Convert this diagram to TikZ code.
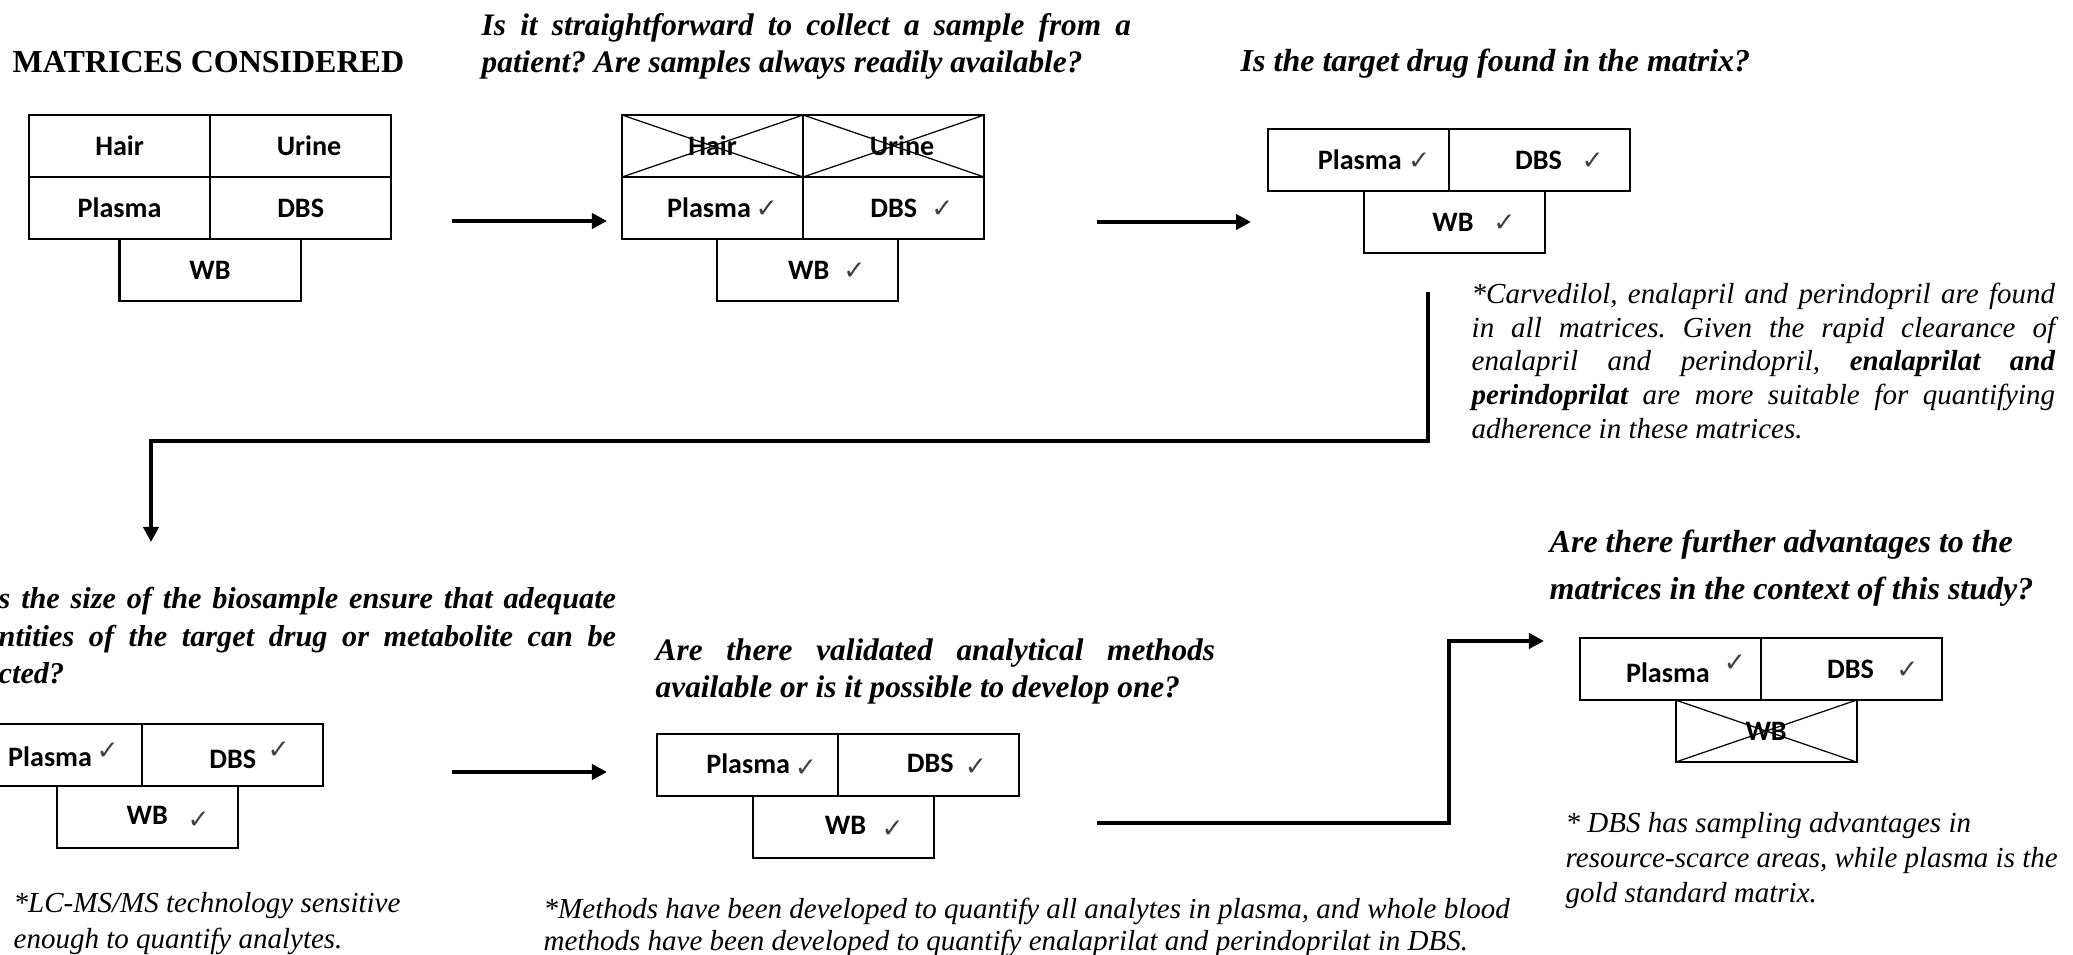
\documentclass[tikz,border=0pt]{standalone}
\usepackage{fontspec}
\setmainfont{Liberation Serif}
\newfontfamily\boxfont{Carlito}
\newfontfamily\symfont{DejaVu Sans}
\usetikzlibrary{positioning,arrows.meta}
\AtBeginDocument{\frenchspacing}
\newcommand\chk{{\symfont\fontsize{7.5}{9}\selectfont\color{black!75}✓}}
\newcommand\jline[2]{\makebox[#1][s]{#2}}
\newcommand\qfont[2]{\bfseries\itshape\fontsize{#1}{#2}\selectfont}
\newcommand\nfont[1]{\itshape\fontsize{8.25}{#1}\selectfont}
\begin{document}
\begin{tikzpicture}[x=0.01cm,y=-0.01cm]
  \tikzset{cell/.style={draw=black, line width=0.6pt, minimum width=1.81cm, minimum height=0.62cm, inner sep=0pt, outer sep=0pt, font=\boxfont\bfseries\fontsize{8}{9}\selectfont},
    cross/.style={draw=black, line width=0.35pt},
    flow/.style={line width=1.25pt, -{Triangle[length=0.15cm,width=0.15cm]}},
    txt/.style={inner sep=0pt, anchor=north west, align=left}}
  \useasboundingbox (0,0) rectangle (2073,955);

  % matrices considered
  \node[anchor=base west, inner sep=0pt, font=\bfseries\fontsize{9.1}{11}\selectfont] (head) at (12,73) {MATRICES CONSIDERED};
  \node[cell, anchor=north west] (g1hair) at (29,115) {Hair};
  \node[cell, right=0pt of g1hair] (g1urine) {\hspace{0.6em}Urine};
  \node[cell, below=0pt of g1hair] (g1pl) {Plasma};
  \node[cell, below=0pt of g1urine] (g1dbs) {DBS};
  \node[cell, below=0pt of g1pl.south east] (g1wb) {WB};

  % collecting the sample
  \node[txt, font=\qfont{8.9}{10.5}] (q2) at (481,9) {\strut\jline{6.49cm}{Is it straightforward to collect a sample from a}\\ patient? Are samples always readily available?};
  \node[cell, anchor=north west] (g2hair) at (622,115) {Hair};
  \node[cell, right=0pt of g2hair] (g2urine) {\hspace{0.6em}Urine};
  \node[cell, below=0pt of g2hair] (g2pl) {\hspace{0.7em}Plasma\,\chk};
  \node[cell, below=0pt of g2urine] (g2dbs) {\hspace{1.3em}DBS\hspace{0.5em}\chk};
  \node[cell, below=0pt of g2pl.south east, xshift=0.04cm] (g2wb) {\hspace{1.4em}WB\hspace{0.5em}\chk};
  \draw[cross] (g2hair.north west) -- (g2hair.south east) (g2hair.south west) -- (g2hair.north east);
  \draw[cross] (g2urine.north west) -- (g2urine.south east) (g2urine.south west) -- (g2urine.north east);

  % target drug in the matrix
  \node[anchor=base west, inner sep=0pt, font=\qfont{9.1}{11}] (q3) at (1240,72) {Is the target drug found in the matrix?};
  \node[cell, anchor=north west] (g3pl) at (1268,129) {\hspace{1.1em}Plasma \chk};
  \node[cell, right=0pt of g3pl] (g3dbs) {\hspace{1.4em}DBS\hspace{0.7em}\chk};
  \node[cell, below=0pt of g3pl.south east, xshift=0.05cm] (g3wb) {\hspace{1.4em}WB\hspace{0.7em}\chk};
  \node[txt, font=\nfont{9.6}] (n3) at (1471,279) {\strut\jline{5.83cm}{*Carvedilol, enalapril and perindopril are found}\\
    \jline{5.83cm}{in all matrices. Given the rapid clearance of}\\
    \jline{5.83cm}{enalapril and perindopril, \textbf{enalaprilat and}}\\
    \jline{5.83cm}{\textbf{perindoprilat} are more suitable for quantifying}\\
    adherence in these matrices.};

  % sample size
  \node[txt, font=\qfont{8.6}{10.6}] (q4) at (-2,582) {\strut\jline{6.17cm}{s the size of the biosample ensure that adequate}\\ \jline{6.17cm}{ntities of the target drug or metabolite can be}\\ cted?};
  \node[cell, anchor=north west] (g4pl) at (-39,724) {\hspace{0.85em}Plasma\,\raisebox{0.25em}{\chk}};
  \node[cell, right=0pt of g4pl] (g4dbs) {\hspace{1.2em}DBS\hspace{0.4em}\raisebox{0.35em}{\chk}};
  \node[cell, below=0pt of g4pl.south east, xshift=0.05cm] (g4wb) {\hspace{1.5em}WB\hspace{0.7em}\raisebox{-0.15em}{\chk}};
  \node[txt, font=\nfont{10.2}] (n4) at (13,887) {\strut*LC-MS/MS technology sensitive\\ enough to quantify analytes.};

  % analytical methods
  \node[txt, font=\qfont{8.9}{10.5}] (q5) at (655,634) {\strut\jline{5.59cm}{Are there validated analytical methods}\\ available or is it possible to develop one?};
  \node[cell, anchor=north west] (g5pl) at (657,734) {\hspace{1em}Plasma\,\raisebox{-0.1em}{\chk}};
  \node[cell, right=0pt of g5pl] (g5dbs) {\hspace{1.3em}DBS\hspace{0.4em}\raisebox{-0.1em}{\chk}};
  \node[cell, below=0pt of g5pl.south east, xshift=0.05cm] (g5wb) {\hspace{1.5em}WB\hspace{0.55em}\raisebox{-0.1em}{\chk}};
  \node[txt, font=\nfont{9.1}] (n5) at (543,895) {\strut*Methods have been developed to quantify all analytes in plasma, and whole blood\\ methods have been developed to quantify enalaprilat and perindoprilat in DBS.};

  % further advantages
  \node[txt, font=\qfont{9.1}{13.1}] (q6) at (1549,520) {\strut Are there further advantages to the\\ matrices in the context of this study?};
  \node[cell, anchor=north west] (g6pl) at (1580,638) {\hspace{1.1em}Plasma\hspace{0.5em}\raisebox{0.4em}{\chk}};
  \node[cell, right=0pt of g6pl] (g6dbs) {\hspace{1.5em}DBS\hspace{0.8em}\chk};
  \node[cell, below=0pt of g6pl.south east, xshift=0.05cm] (g6wb) {WB};
  \draw[cross] (g6wb.north west) -- (g6wb.south east) (g6wb.south west) -- (g6wb.north east);
  \node[txt, font=\nfont{10}] (n6) at (1565,807) {\strut* DBS has sampling advantages in\\ resource-scarce areas, while plasma is the\\ gold standard matrix.};

  % connectors
  \coordinate (a1s) at (452,221);
  \coordinate (a2s) at (1097,222);
  \coordinate (c3s) at (1428,292);
  \coordinate (c3m) at (151,441);
  \coordinate (c3e) at (151,542);
  \coordinate (a3s) at (452,772);
  \coordinate (c4s) at (1097,823);
  \coordinate (c4m) at (1449,641);
  \draw[flow, shorten >=0.15cm] (a1s) -- (a1s -| g2pl.west);
  \draw[flow, shorten >=0.17cm] (a2s) -- (a2s -| g3pl.west);
  \draw[flow] (c3s) |- (c3m) -- (c3e);
  \draw[flow, shorten >=0.5cm] (a3s) -- (a3s -| g5pl.west);
  \draw[flow, shorten >=0.36cm] (c4s) -| (c4m) -- (c4m -| g6pl.west);
\end{tikzpicture}
\end{document}
